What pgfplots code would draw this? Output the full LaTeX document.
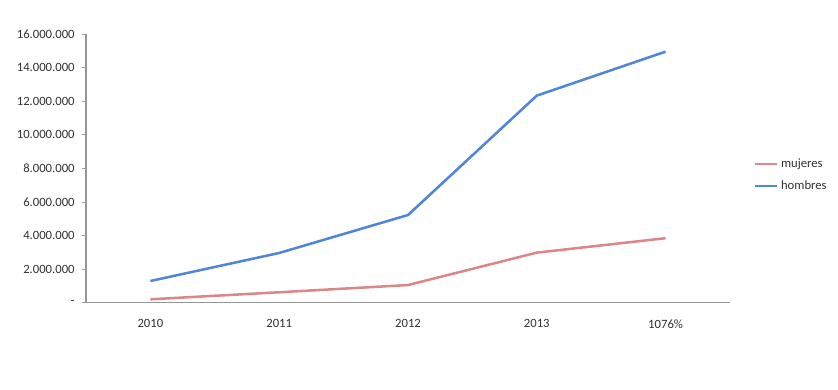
\documentclass[border=0pt]{standalone}
\usepackage{pgfplots}
\pgfplotsset{compat=1.18}
\usepackage{fontspec}
\setmainfont{Carlito}
\definecolor{cblue}{RGB}{79,134,214}
\definecolor{cpink}{RGB}{220,135,135}
\definecolor{ctext}{RGB}{50,50,50}
\definecolor{caxis}{RGB}{150,150,150}
\begin{document}
\begin{tikzpicture}
\useasboundingbox (-64.5pt,-65pt) rectangle (564pt,227pt);
\begin{axis}[
  at={(0pt,0pt)}, anchor=south west,
  scale only axis,
  width=483pt, height=201.5pt,
  xmin=-0.5, xmax=4.5,
  ymin=0, ymax=16000000,
  scaled y ticks=false,
  xtick={0,1,2,3,4},
  xticklabels={2010,2011,2012,2013,1076\%},
  ytick={0,2000000,4000000,6000000,8000000,10000000,12000000,14000000,16000000},
  yticklabels={-,2.000.000,4.000.000,6.000.000,8.000.000,10.000.000,12.000.000,14.000.000,16.000.000},
  axis x line=bottom, axis y line=left,
  axis line style={caxis, line width=0.8pt, -},
  tick align=outside,
  major tick length=3pt,
  ytick style={caxis, line width=0.6pt},
  xtick style={draw=none},
  tick label style={font=\fontsize{9.5}{11}\selectfont, text=ctext},
  /pgf/number format/assume math mode=true,
  xticklabel style={yshift=-6pt},
  yticklabel style={xshift=-2pt},
  legend style={draw=none, at={(1.03,0.475)}, anchor=west, font=\fontsize{9.5}{11}\selectfont, text=ctext, row sep=4pt, fill=none},
  legend cell align=left,
  legend image code/.code={\draw[#1, line width=1.6pt] (0pt,0pt) -- (17pt,0pt);},
]
\addplot[cpink, line width=1.9pt] coordinates {(0,200000) (1,620000) (2,1050000) (3,2980000) (4,3840000)};
\addlegendentry{mujeres}
\addplot[cblue, line width=1.9pt] coordinates {(0,1290000) (1,2960000) (2,5220000) (3,12330000) (4,14950000)};
\addlegendentry{hombres}
\end{axis}
\end{tikzpicture}
\end{document}
